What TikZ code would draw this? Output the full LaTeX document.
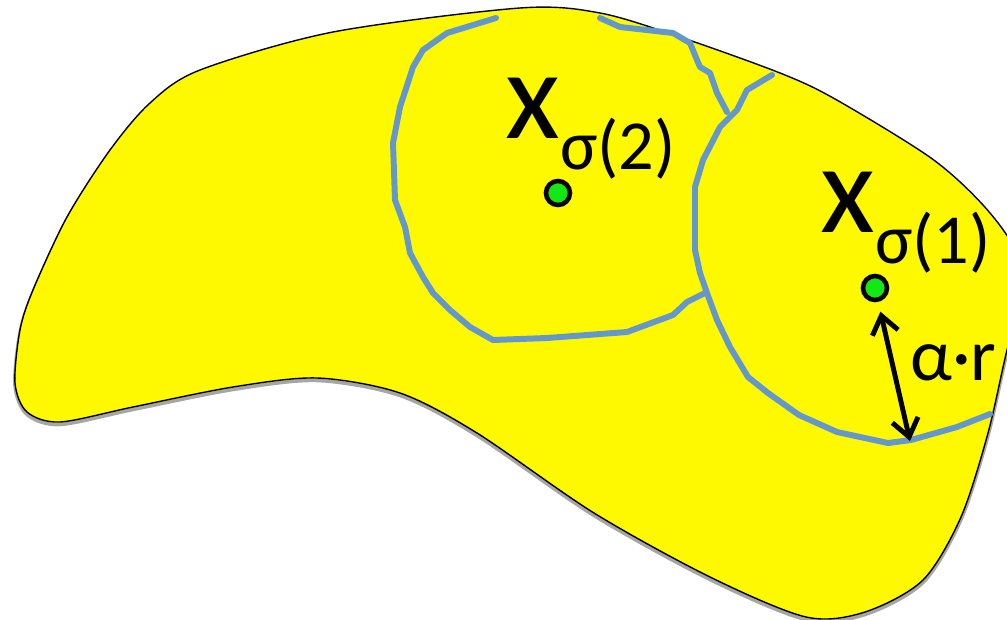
\documentclass[tikz,border=0pt]{standalone}
\usepackage{fontspec}
\setmainfont{Carlito}
\usetikzlibrary{arrows.meta}
\definecolor{region}{RGB}{255,249,0}
\definecolor{cell}{RGB}{100,152,205}
\definecolor{centre}{RGB}{20,232,20}

\begin{document}
\begin{tikzpicture}[x=0.02cm, y=-0.02cm,
    dot/.style = {circle, draw, line width=2.6pt, fill=centre, inner sep=0pt, minimum size=0.48cm},
    cut/.style = {cell, line width=3.4pt, line join=round, line cap=round},
    lbl/.style = {anchor=base west, inner sep=0pt, font=\fontsize{72}{74}\selectfont}
    ]
    \useasboundingbox (0,0) rectangle (1007,619);
    % the domain, with its shadow
    \draw[black!35, line width=2pt, yshift=-0.05cm] plot[smooth cycle] coordinates {
        (15,383) (20,330) (33,290) (67,217) (110,150) (150,103) (200,70) (333,32)
        (520,8) (600,13) (680,37) (780,73) (835,99) (931,158) (983,205) (1015,250)
        (1022,300) (1007,350) (988,433) (961,517) (923,580) (865,612) (806,617)
        (710,577) (594,513) (477,433) (400,393) (317,378) (233,387) (133,407)
        (60,422) (27,412)};
    \draw[fill=region, line width=0.8pt] plot[smooth cycle] coordinates {
        (15,383) (20,330) (33,290) (67,217) (110,150) (150,103) (200,70) (333,32)
        (520,8) (600,13) (680,37) (780,73) (835,99) (931,158) (983,205) (1015,250)
        (1022,300) (1007,350) (988,433) (961,517) (923,580) (865,612) (806,617)
        (710,577) (594,513) (477,433) (400,393) (317,378) (233,387) (133,407)
        (60,422) (27,412)};
    % cells
    \draw[cut] plot coordinates {
        (496,18) (447,33) (423,50) (413,67) (400,107) (393,143) (395,200) (405,227)
        (410,253) (423,277) (433,293) (450,310) (470,327) (493,340) (547,338)
        (627,332) (673,315) (687,302) (705,293)};
    \draw[cut] plot coordinates {
        (600,18) (620,27) (673,33) (690,43) (697,60) (700,67) (710,73) (717,93) (727,112)};
    \draw[cut] plot coordinates {
        (772,75) (747,90) (737,110) (720,127) (703,160) (695,187) (695,250) (700,273)
        (707,293) (717,320) (730,347) (748,377) (768,393) (799,415) (837,432)
        (888,443) (911,440) (957,427) (990,414)};
    % centres
    \node[dot] (d2) at (558,193) {};
    \node[dot] (d1) at (875,288) {};
    \coordinate (rim) at (910,441);
    \node[lbl] (l2) at (505,138) {x\raisebox{-18pt}{\fontsize{40}{42}\selectfont σ(2)}};
    \node[lbl] (l1) at (820,232) {x\raisebox{-18pt}{\fontsize{40}{42}\selectfont σ(1)}};
    \draw[{Straight Barb[length=10pt,width=15pt]}-{Straight Barb[length=10pt,width=15pt]},
        line width=2.8pt, shorten <=0.2cm] (d1) -- (rim);
    \node[lbl, font=\fontsize{42}{44}\selectfont] (lr) at (910,380) {α·r};
\end{tikzpicture}
\end{document}
